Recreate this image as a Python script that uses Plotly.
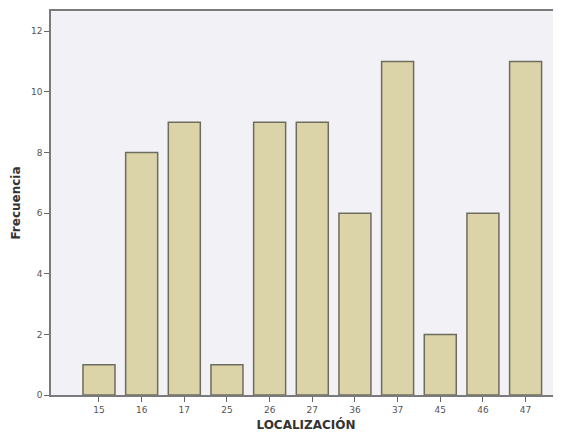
import plotly.graph_objects as go

categorias = ["15", "16", "17", "25", "26", "27", "36", "37", "45", "46", "47"]
frecuencias = [1, 8, 9, 1, 9, 9, 6, 11, 2, 6, 11]
y_ticks = [0, 2, 4, 6, 8, 10, 12]

fig = go.Figure(
    go.Bar(
        x=categorias,
        y=frecuencias,
        width=0.75,
        marker=dict(color="#DAD4A8", line=dict(color="#6E6C5E", width=1.5)),
    )
)

# page body has an 8px default margin, so the figure is shrunk by 8px
fig.update_layout(
    width=553,
    height=425,
    margin=dict(l=43, r=0, t=3, b=38),
    paper_bgcolor="white",
    plot_bgcolor="#F2F2F6",
    showlegend=False,
    font=dict(family="DejaVu Sans", size=9, color="#555555"),
)

fig.update_xaxes(
    type="category",
    range=[-1.125, 10.83],
    showgrid=False,
    showline=True,
    linecolor="#7A7A7A",
    linewidth=1.5,
    mirror=True,
    ticks="outside",
    ticklen=5,
    tickcolor="#666666",
    tickwidth=1,
    tickfont=dict(size=9, color="#555555"),
    title=dict(text="<b>LOCALIZACIÓN</b>", font=dict(size=12, color="#333333"), standoff=7),
)

fig.update_yaxes(
    range=[0, 12.67],
    tickvals=y_ticks,
    showgrid=False,
    zeroline=False,
    showline=True,
    linecolor="#7A7A7A",
    linewidth=1.5,
    ticks="outside",
    ticklen=5,
    tickcolor="#666666",
    tickwidth=1,
    tickfont=dict(size=9, color="#555555"),
    title=dict(text="<b>Frecuencia</b>", font=dict(size=12, color="#333333"), standoff=8),
)

fig.write_html("out.html")
